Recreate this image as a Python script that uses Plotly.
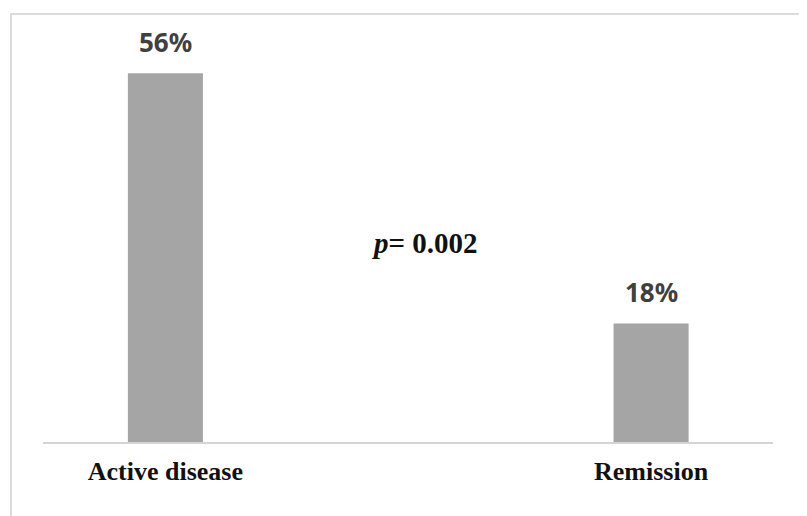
import plotly.graph_objects as go

categories = ["Active disease", "Remission"]
values = [56, 18]
value_labels = ["56%", "18%"]
p_text = "<b><i>p</i>= 0.002</b>"

xs = list(range(len(categories)))

fig = go.Figure()
fig.add_trace(go.Bar(
    x=xs, y=values, width=0.1545,
    marker=dict(color="#A5A5A5", line=dict(width=0)),
    hoverinfo="skip",
))

for x, v, lab in zip(xs, values, value_labels):
    fig.add_annotation(x=x, y=v, text=f"<b>{lab}</b>", showarrow=False,
                       yanchor="bottom", yshift=11,
                       font=dict(family="Noto Sans", size=26, color="#404040"))

fig.add_annotation(x=0.534, y=30.2, text=p_text, showarrow=False,
                   font=dict(family="Liberation Serif", size=29, color="#111111"))

# outer frame (top and left lines visible)
fig.add_shape(type="rect", xref="paper", yref="paper",
              x0=-0.0438, x1=1.6, y0=-1, y1=1.0,
              line=dict(color="#DCDCDC", width=2), fillcolor="rgba(0,0,0,0)", layer="below")

fig.update_layout(
    width=807, height=516,
    margin=dict(l=35, r=42, t=6, b=82),
    paper_bgcolor="white", plot_bgcolor="white",
    showlegend=False,
    xaxis=dict(range=[-0.252, 1.251], tickvals=xs, ticktext=[f"<b>{c}</b>" for c in categories],
               showline=True, linecolor="#D4D4D4", linewidth=2, showgrid=False, zeroline=False,
               ticks="", ticklabelstandoff=5,
               tickfont=dict(family="Liberation Serif", size=26, color="#111111")),
    yaxis=dict(range=[0, 65], visible=False, showgrid=False, zeroline=False),
)

fig.write_html("out.html")
